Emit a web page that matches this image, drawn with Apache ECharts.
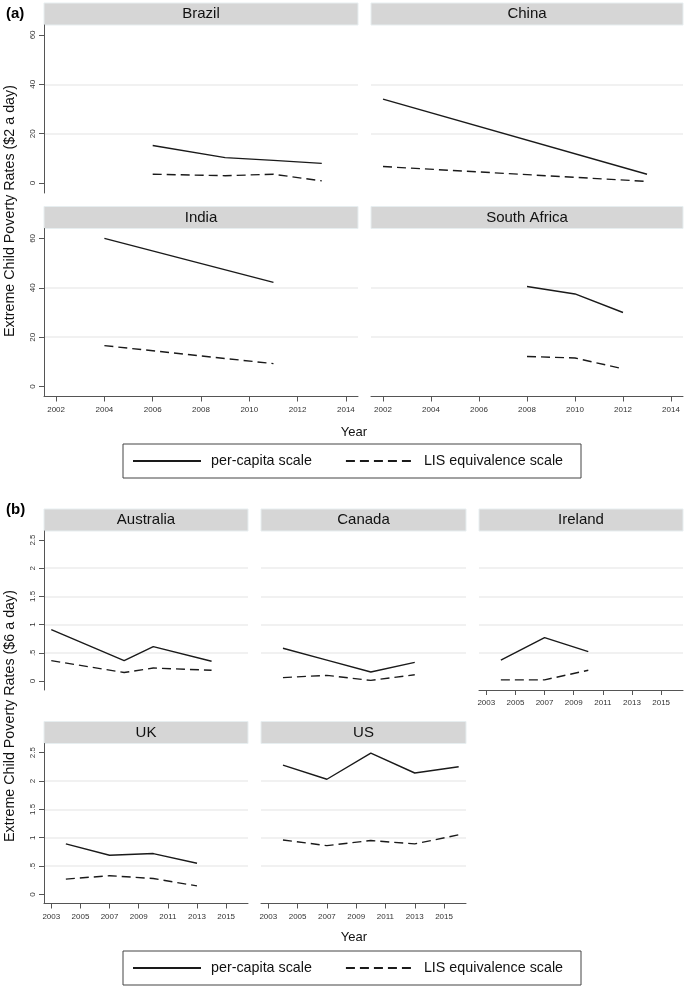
<!DOCTYPE html>
<html>
<head>
<meta charset="utf-8">
<script src="https://cdn.jsdelivr.net/npm/echarts@6/dist/echarts.min.js"></script>
<style>
html, body { margin: 0; padding: 0; background: #fff; }
#main { width: 685px; height: 987px; }
</style>
</head>
<body>
<div id="main"></div>
<script>
// ---- data: (a) extreme child poverty, $2 a day ----
var yearsA = ['2002', '2003', '2004', '2005', '2006', '2007', '2008', '2009', '2010', '2011', '2012', '2013', '2014'];
var brazilPc = [[2006, 15.2], [2009, 10.3], [2011, 9.2], [2013, 8.0]];
var brazilLis = [[2006, 3.6], [2009, 3.0], [2011, 3.6], [2013, 0.9]];
var chinaPc = [[2002, 34.0], [2013, 3.6]];
var chinaLis = [[2002, 6.7], [2013, 0.7]];
var indiaPc = [[2004, 60.0], [2011, 42.2]];
var indiaLis = [[2004, 16.6], [2011, 9.3]];
var safricaPc = [[2008, 40.5], [2010, 37.5], [2012, 30.0]];
var safricaLis = [[2008, 12.2], [2010, 11.6], [2012, 7.2]];

// ---- data: (b) extreme child poverty, $6 a day ----
var yearsB = ['2003', '2004', '2005', '2006', '2007', '2008', '2009', '2010', '2011', '2012', '2013', '2014', '2015', '2016'];
var australiaPc = [[2003, 0.91], [2008, 0.36], [2010, 0.61], [2014, 0.35]];
var australiaLis = [[2003, 0.36], [2008, 0.15], [2010, 0.23], [2014, 0.19]];
var canadaPc = [[2004, 0.58], [2007, 0.37], [2010, 0.16], [2013, 0.33]];
var canadaLis = [[2004, 0.06], [2007, 0.10], [2010, 0.01], [2013, 0.11]];
var irelandPc = [[2004, 0.37], [2007, 0.77], [2010, 0.52]];
var irelandLis = [[2004, 0.02], [2007, 0.02], [2010, 0.19]];
var ukPc = [[2004, 0.89], [2007, 0.69], [2010, 0.72], [2013, 0.55]];
var ukLis = [[2004, 0.27], [2007, 0.33], [2010, 0.28], [2013, 0.15]];
var usPc = [[2004, 2.28], [2007, 2.03], [2010, 2.49], [2013, 2.14], [2016, 2.25]];
var usLis = [[2004, 0.96], [2007, 0.86], [2010, 0.95], [2013, 0.89], [2016, 1.05]];

var seriesNames = ['per-capita scale', 'LIS equivalence scale'];
var ticksA = [0, 20, 40, 60];
var ticksB = [0, 0.5, 1, 1.5, 2, 2.5];

// ---- panel layout ----
var panels = [
  { title: 'Brazil', pc: brazilPc, lis: brazilLis, years: yearsA, ticks: ticksA, range: [-4, 64], box: [44, 25, 314, 168], yAx: true, xAx: false },
  { title: 'China', pc: chinaPc, lis: chinaLis, years: yearsA, ticks: ticksA, range: [-4, 64], box: [371, 25, 312, 168], yAx: false, xAx: false },
  { title: 'India', pc: indiaPc, lis: indiaLis, years: yearsA, ticks: ticksA, range: [-4, 64], box: [44, 228.5, 314, 168], yAx: true, xAx: true },
  { title: 'South Africa', pc: safricaPc, lis: safricaLis, years: yearsA, ticks: ticksA, range: [-4, 64], box: [371, 228.5, 312, 168], yAx: false, xAx: true },
  { title: 'Australia', pc: australiaPc, lis: australiaLis, years: yearsB, ticks: ticksB, range: [-0.16, 2.66], box: [44, 531, 204, 159], yAx: true, xAx: false },
  { title: 'Canada', pc: canadaPc, lis: canadaLis, years: yearsB, ticks: ticksB, range: [-0.16, 2.66], box: [261, 531, 205, 159], yAx: false, xAx: false },
  { title: 'Ireland', pc: irelandPc, lis: irelandLis, years: yearsB, ticks: ticksB, range: [-0.16, 2.66], box: [479, 531, 204, 159], yAx: false, xAx: true },
  { title: 'UK', pc: ukPc, lis: ukLis, years: yearsB, ticks: ticksB, range: [-0.16, 2.66], box: [44, 743.5, 204, 160], yAx: true, xAx: true },
  { title: 'US', pc: usPc, lis: usLis, years: yearsB, ticks: ticksB, range: [-0.16, 2.66], box: [261, 743.5, 205, 160], yAx: false, xAx: true }
];

var axisGray = '#555';
var ink = '#1a1a1a';
var sans = '"Liberation Sans", Arial, sans-serif';

function fmtTick(v) {
  // Stata style: .5 instead of 0.5
  return String(v).replace(/^0\./, '.');
}

var grids = [], xAxes = [], yAxes = [], series = [], graphics = [];

panels.forEach(function (p, i) {
  var b = p.box;
  var step = p.ticks[1] - p.ticks[0];
  grids.push({ left: b[0], top: b[1], width: b[2], height: b[3] });

  xAxes.push({
    type: 'category', gridIndex: i, data: p.years, boundaryGap: true,
    axisLine: { show: p.xAx, onZero: false, lineStyle: { color: axisGray, width: 1 } },
    axisTick: { show: p.xAx, interval: 1, alignWithLabel: true, length: 5, lineStyle: { color: axisGray } },
    axisLabel: { show: p.xAx, interval: 1, fontSize: 8, color: '#333', margin: 9, fontFamily: sans },
    splitLine: { show: false }
  });

  yAxes.push({
    type: 'value', gridIndex: i, min: p.range[0], max: p.range[1],
    minInterval: step, maxInterval: step,
    axisLine: { show: p.yAx, lineStyle: { color: axisGray, width: 1 } },
    axisTick: { show: p.yAx, customValues: p.ticks, length: 5, lineStyle: { color: axisGray } },
    axisLabel: {
      show: p.yAx, customValues: p.ticks, rotate: 90, fontSize: 8, color: '#333', margin: 7, fontFamily: sans,
      formatter: function (v) {
        var k = v / step;
        return Math.abs(k - Math.round(k)) < 1e-6 ? fmtTick(v) : '';
      }
    },
    splitLine: { show: true, showMinLine: false, showMaxLine: false, lineStyle: { color: '#ececec', width: 1.5 } }
  });

  [p.pc, p.lis].forEach(function (d, k) {
    series.push({
      type: 'line', name: seriesNames[k], xAxisIndex: i, yAxisIndex: i,
      data: d.map(function (r) { return [String(r[0]), r[1]]; }),
      symbol: 'none', silent: true,
      itemStyle: { color: ink },
      lineStyle: { color: ink, width: 1.4, type: k === 0 ? 'solid' : [9, 5] }
    });
  });

  // facet header strip
  graphics.push({
    type: 'rect', shape: { x: b[0], y: b[1] - 22, width: b[2], height: 22 },
    style: { fill: '#d6d6d6', stroke: '#e7eef0', lineWidth: 1 }
  });
  graphics.push({
    type: 'text', x: b[0] + b[2] / 2, y: b[1] - 11,
    style: { text: p.title, font: '15px ' + sans, fill: '#111', textAlign: 'center', textVerticalAlign: 'middle' }
  });
});

// panel letters, axis titles
[['(a)', 6, 14], ['(b)', 6, 510]].forEach(function (t) {
  graphics.push({ type: 'text', x: t[1], y: t[2], style: { text: t[0], font: 'bold 15px ' + sans, fill: '#000', textVerticalAlign: 'middle' } });
});
[['Extreme Child Poverty Rates ($2 a day)', 211], ['Extreme Child Poverty Rates ($6 a day)', 716]].forEach(function (t) {
  graphics.push({
    type: 'text', x: 10, y: t[1], rotation: Math.PI / 2,
    style: { text: t[0], font: '14.3px ' + sans, fill: '#111', textAlign: 'center', textVerticalAlign: 'middle' }
  });
});
[432.5, 937.5].forEach(function (y) {
  graphics.push({ type: 'text', x: 354, y: y, style: { text: 'Year', font: '13px ' + sans, fill: '#111', textAlign: 'center', textVerticalAlign: 'middle' } });
});

function makeLegend(top) {
  return {
    data: seriesNames, left: 123, top: top, orient: 'horizontal', selectedMode: false,
    borderColor: '#444', borderWidth: 1, borderRadius: 0, backgroundColor: '#fff',
    padding: [10, 18, 10, 9], itemGap: 33, itemWidth: 68, itemHeight: 16,
    itemStyle: { opacity: 0 },
    textStyle: { fontSize: 14.3, color: '#111', fontFamily: sans, padding: [0, 0, 0, 5] }
  };
}

var chart = echarts.init(document.getElementById('main'), null, { renderer: 'canvas' });
chart.setOption({
  animation: false,
  backgroundColor: '#fff',
  grid: grids,
  xAxis: xAxes,
  yAxis: yAxes,
  series: series,
  legend: [makeLegend(444), makeLegend(951)],
  graphic: graphics
});
</script>
</body>
</html>
